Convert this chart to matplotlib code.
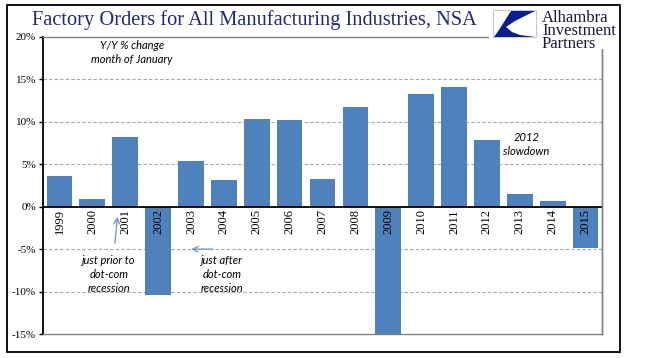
import matplotlib
matplotlib.use("Agg")
import matplotlib.pyplot as plt
from matplotlib.patches import Rectangle, Polygon
from matplotlib.ticker import FuncFormatter

anos = ["1999", "2000", "2001", "2002", "2003", "2004", "2005", "2006", "2007",
        "2008", "2009", "2010", "2011", "2012", "2013", "2014", "2015"]
variacao = [3.65, 0.95, 8.25, -10.45, 5.4, 3.2, 10.37, 10.25, 3.3,
            11.78, -15.6, 13.3, 14.1, 7.9, 1.55, 0.7, -4.9]
marcas_y = [-15, -10, -5, 0, 5, 10, 15, 20]

W, H = 649, 358
fig = plt.figure(figsize=(W / 100, H / 100), dpi=100)

def fx(px):
    return px / W

def fy(py):
    return 1 - py / H

ax = fig.add_axes([fx(43), fy(334), fx(602) - fx(43), fy(37) - fy(334)])

x = list(range(len(anos)))
ax.bar(x, variacao, width=0.78, color="#4F81BD", zorder=3)
ax.set_xlim(-0.5, len(anos) - 0.5)
ax.set_ylim(-15, 20)

# linhas de grade
for v in marcas_y:
    if v in (-15, 0, 20):
        continue
    ax.axhline(v, color="#A6A6A6", lw=0.8, ls=(0, (3, 2)), zorder=1)
ax.axhline(0, color="black", lw=1.3, zorder=4)

for lado in ["top", "right", "bottom"]:
    ax.spines[lado].set_color("#808080")
    ax.spines[lado].set_linewidth(1.0)
ax.spines["left"].set_color("black")
ax.spines["left"].set_linewidth(1.3)

ax.set_yticks(marcas_y)
ax.yaxis.set_major_formatter(FuncFormatter(lambda v, p: "%d%%" % v))
ax.tick_params(axis="y", direction="out", length=3, width=1, pad=2)
for t in ax.get_yticklabels():
    t.set_fontfamily("Liberation Serif")
    t.set_fontsize(8)
ax.set_xticks([])

# rotulos dos anos logo abaixo da linha do zero
for i, ano in enumerate(anos):
    ax.text(i, -0.3, ano, rotation=90, ha="center", va="top",
            fontsize=9, family="Liberation Serif", zorder=5)

fonte_nota = dict(fontsize=8, family="Lato", style="italic", ha="center", va="center")
ax.text(2.2, 18.2, "Y/Y % change\nmonth of January", linespacing=1.35, **fonte_nota)
ax.text(1.5, -8.0, "just prior to\ndot-com\nrecession", linespacing=1.35, **fonte_nota)
ax.text(4.95, -8.0, "just after\ndot-com\nrecession", linespacing=1.35, **fonte_nota)
ax.text(14.2, 7.35, "2012\nslowdown", linespacing=1.35, **fonte_nota)

cor_seta = "#7A9CC6"
ax.annotate("", xy=(1.77, -0.85), xytext=(1.68, -4.6),
            arrowprops=dict(arrowstyle="->", color=cor_seta, lw=1.0))
ax.annotate("", xy=(3.92, -5.0), xytext=(4.75, -5.0),
            arrowprops=dict(arrowstyle="->", color=cor_seta, lw=1.0))

# titulo
fig.text(fx(32), fy(20), "Factory Orders for All Manufacturing Industries, NSA",
         fontsize=14.7, family="Liberation Serif", color="#1F2A78",
         ha="left", va="center")

# logotipo
fig.patches.append(Rectangle((fx(489), fy(49)), fx(620) - fx(489), fy(4) - fy(49),
                             transform=fig.transFigure, facecolor="white",
                             edgecolor="none", zorder=10))
fig.patches.append(Rectangle((fx(493), fy(37)), fx(536) - fx(493), fy(10) - fy(37),
                             transform=fig.transFigure, facecolor="white",
                             edgecolor="#C8C8C8", lw=0.8, zorder=11))
forma = [(511, 11), (535, 11), (515, 21), (506, 27), (512, 32), (520, 35), (535, 37),
         (494, 37), (499, 30), (504, 22)]
fig.patches.append(Polygon([(fx(a), fy(b)) for a, b in forma], closed=True,
                           transform=fig.transFigure, facecolor="#0A1F8F",
                           edgecolor="none", zorder=12))
fig.text(fx(542), fy(31), "Alhambra\nInvestment\nPartners", fontsize=12,
         family="Liberation Serif", color="#1A1A3A", ha="left", va="center",
         linespacing=0.74, zorder=12)
ax.plot([1, 1], [0, 0.955], transform=ax.transAxes, color="#808080", lw=1.0,
        clip_on=False, zorder=13)

# moldura externa
fig.patches.append(Rectangle((fx(7), fy(352)), fx(620) - fx(7), fy(5) - fy(352),
                             transform=fig.transFigure, facecolor="none",
                             edgecolor="black", lw=1.3, zorder=20))

fig.savefig("out.png", dpi=100)
